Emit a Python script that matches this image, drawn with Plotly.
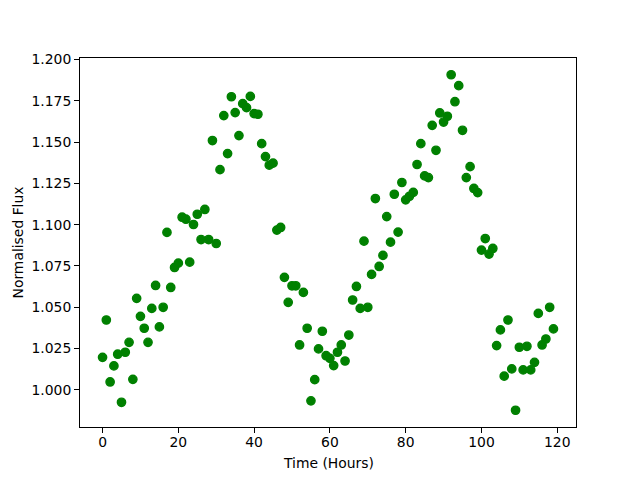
import plotly.graph_objects as go

flux = [
    1.0197, 1.0423, 1.0048, 1.0145, 1.0216, 0.9925, 1.0228, 1.0288, 1.0064, 1.0554,
    1.0445, 1.0373, 1.0288, 1.0493, 1.0632, 1.0381, 1.0500, 1.0953, 1.0620, 1.0741,
    1.0767, 1.1045, 1.1033, 1.0773, 1.1001, 1.1063, 1.0910, 1.1092, 1.0910, 1.1509,
    1.0886, 1.1333, 1.1660, 1.1430, 1.1774, 1.1678, 1.1539, 1.1732, 1.1708, 1.1776,
    1.1672, 1.1668, 1.1490, 1.1412, 1.1360, 1.1372, 1.0967, 1.0983, 1.0681, 1.0530,
    1.0630, 1.0630, 1.0272, 1.0590, 1.0373, 0.9934, 1.0062, 1.0248, 1.0355, 1.0207,
    1.0191, 1.0147, 1.0228, 1.0272, 1.0175, 1.0332, 1.0544, 1.0626, 1.0493, 1.0900,
    1.0500, 1.0699, 1.1158, 1.0747, 1.0814, 1.1049, 1.0894, 1.1184, 1.0955, 1.1255,
    1.1150, 1.1172, 1.1195, 1.1364, 1.1490, 1.1295, 1.1285, 1.1601, 1.1450, 1.1676,
    1.1621, 1.1656, 1.1907, 1.1744, 1.1841, 1.1571, 1.1285, 1.1351, 1.1219, 1.1194,
    1.0846, 1.0916, 1.0822, 1.0856, 1.0268, 1.0363, 1.0083, 1.0423, 1.0127, 0.9877,
    1.0258, 1.0121, 1.0264, 1.0121, 1.0167, 1.0463, 1.0272, 1.0308, 1.0500, 1.0369,
]
hours = list(range(len(flux)))

x_ticks = [0, 20, 40, 60, 80, 100, 120]
y_ticks = [1.000, 1.025, 1.050, 1.075, 1.100, 1.125, 1.150, 1.175, 1.200]
x_title = "Time (Hours)"
y_title = "Normalised Flux"

def padded(vals):
    lo, hi = min(vals), max(vals)
    m = 0.05 * (hi - lo)
    return [lo - m, hi + m]

FONT = dict(family="DejaVu Sans", size=13.9, color="black")

fig = go.Figure(go.Scatter(
    x=hours, y=flux, mode="markers",
    marker=dict(color="#008000", size=8.3, line=dict(color="#008000", width=1.4)),
    showlegend=False,
))

axis_common = dict(
    showgrid=False, zeroline=False, showline=True, mirror=True,
    linecolor="black", linewidth=1.1, ticks="outside", ticklen=4.9,
    tickwidth=1.1, tickcolor="black", tickfont=FONT,
)
fig.update_xaxes(range=padded(hours), tickvals=x_ticks,
                 ticktext=[str(v) for v in x_ticks], ticklabelstandoff=-3,
                 **axis_common)
fig.update_yaxes(range=padded(flux), tickvals=y_ticks,
                 ticktext=[f"{v:.3f}" for v in y_ticks], **axis_common)

fig.update_layout(
    width=640, height=480,
    margin=dict(l=80, r=64, t=57.6, b=52.8, pad=0, autoexpand=False),
    paper_bgcolor="white", plot_bgcolor="white",
    font=FONT,
    annotations=[
        dict(text=x_title, xref="paper", yref="paper", x=0.5, y=-0.097,
             xanchor="center", yanchor="middle", showarrow=False, font=FONT),
        dict(text=y_title, xref="paper", yref="paper", x=-0.127, y=0.5,
             xanchor="center", yanchor="middle", textangle=-90,
             showarrow=False, font=FONT),
    ],
)

fig.write_html("out.html", config={"displayModeBar": False},
               post_script="document.body.style.margin='0';")
